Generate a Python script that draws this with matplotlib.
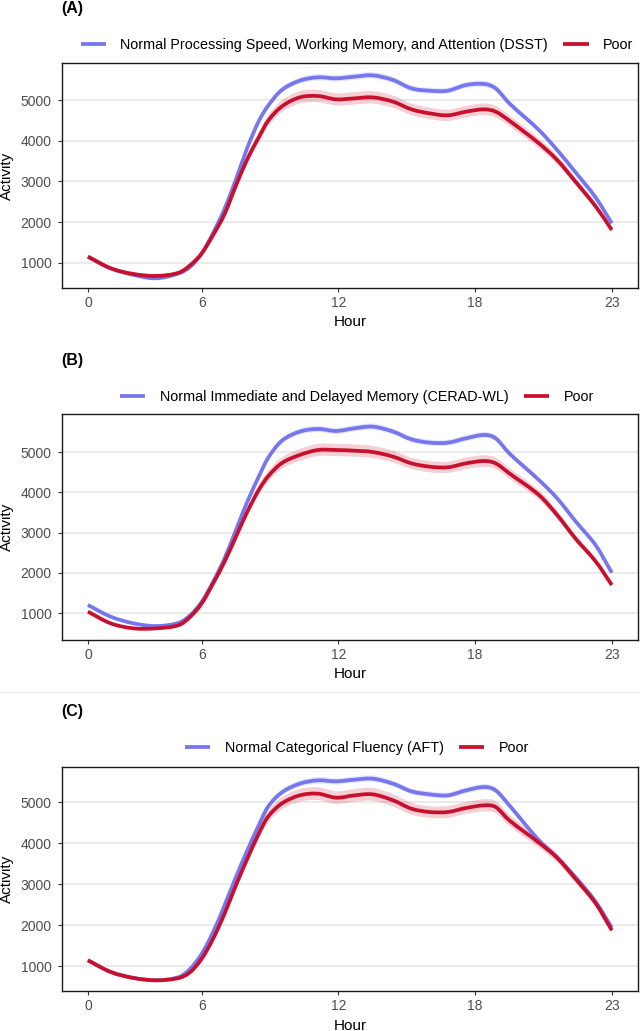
import matplotlib
matplotlib.use("Agg")
import matplotlib.pyplot as plt
from matplotlib.lines import Line2D
from matplotlib.path import Path
from matplotlib.patches import PathPatch
import numpy as np

plt.rcParams['font.family'] = ['Liberation Sans', 'DejaVu Sans']

# ---------------- data (plot units on the hour axis) ----------------
hours = [0, 1, 2, 3, 4, 4.5, 5, 5.5, 6, 6.5, 7, 7.5, 7.9, 8.5, 9.3, 10.1, 10.9,
         11.7, 12.5, 13.4, 14.2, 15, 15.8, 16.6, 17.4, 17.9, 18.5, 19.8, 20.6,
         21.4, 22.3, 23]
tick_pos = [0, 5, 11, 17, 23]
tick_labels = ["0", "6", "12", "18", "23"]
y_ticks = [1000, 2000, 3000, 4000, 5000]

panel_titles = ["(A)", "(B)", "(C)"]
normal_labels = ["Normal Processing Speed, Working Memory, and Attention (DSST)",
                 "Normal Immediate and Delayed Memory (CERAD-WL)",
                 "Normal Categorical Fluency (AFT)"]
poor_label = "Poor"

a_normal = [1155, 869, 706, 624, 746, 910, 1237, 1740, 2330, 3050, 3830, 4480, 4850,
            5240, 5474, 5556, 5532, 5573, 5605, 5491, 5286, 5229, 5229, 5368, 5393,
            5286, 4918, 4264, 3773, 3230, 2600, 1973]
a_poor = [1155, 869, 730, 681, 763, 950, 1237, 1687, 2200, 2900, 3550, 4080, 4480,
          4836, 5065, 5098, 5016, 5041, 5065, 4959, 4771, 4673, 4624, 4714, 4771,
          4714, 4493, 3937, 3528, 3000, 2382, 1810]

b_normal = [1199, 909, 743, 676, 759, 950, 1282, 1780, 2361, 3066, 3772, 4394, 4850,
            5280, 5515, 5581, 5531, 5598, 5639, 5515, 5324, 5241, 5241, 5349, 5432,
            5349, 4975, 4311, 3855, 3290, 2680, 2004]
b_poor = [1033, 743, 618, 618, 701, 909, 1241, 1739, 2278, 2900, 3523, 4062, 4394,
          4726, 4934, 5058, 5058, 5041, 5008, 4892, 4726, 4643, 4627, 4726, 4784,
          4726, 4477, 3938, 3440, 2859, 2278, 1697]

c_normal = [1146, 862, 716, 659, 740, 943, 1308, 1836, 2485, 3174, 3824, 4432, 4878,
            5227, 5446, 5527, 5503, 5544, 5568, 5446, 5260, 5187, 5162, 5284, 5365,
            5284, 4920, 4067, 3650, 3174, 2566, 1941]
c_poor = [1146, 862, 716, 659, 716, 862, 1187, 1673, 2282, 2972, 3621, 4229, 4635,
          4959, 5162, 5203, 5105, 5162, 5187, 5041, 4838, 4757, 4757, 4854, 4919,
          4878, 4554, 4010, 3640, 3134, 2525, 1876]

normal_series = [a_normal, b_normal, c_normal]
poor_series = [a_poor, b_poor, c_poor]

# relative half-width of the confidence bands
normal_ci = 0.014
poor_ci = 0.03

# ---------------- style / layout ----------------
BLUE = "#7676EF"
RED = "#C8102E"
W, H = 640, 1031
boxes = [(61.7, 62.7, 638, 288.3), (61.7, 414, 638, 640), (61.7, 766.7, 638, 991.3)]
ylims = [(378, 5916), (328, 5954), (391, 5860)]
title_y = [8.5, 360, 711.5]
legend_y = [45, 396.7, 748]


def bezier_segments(x, y):
    """Cubic Hermite curve through the points, as Bezier vertices."""
    x = np.asarray(x, float)
    y = np.asarray(y, float)
    n = len(x)
    m = np.empty(n)
    m[0] = (y[1] - y[0]) / (x[1] - x[0])
    m[-1] = (y[-1] - y[-2]) / (x[-1] - x[-2])
    m[1:-1] = (y[2:] - y[:-2]) / (x[2:] - x[:-2])
    verts = []
    for k in range(n - 1):
        h = x[k + 1] - x[k]
        verts += [(x[k] + h / 3, y[k] + m[k] * h / 3),
                  (x[k + 1] - h / 3, y[k + 1] - m[k + 1] * h / 3),
                  (x[k + 1], y[k + 1])]
    return verts


def curve_path(x, y):
    verts = [(x[0], y[0])] + bezier_segments(x, y)
    codes = [Path.MOVETO] + [Path.CURVE4] * (len(verts) - 1)
    return Path(verts, codes)


def band_path(x, lo, hi):
    up = [(x[0], hi[0])] + bezier_segments(x, hi)
    down = bezier_segments(x[::-1], lo[::-1])
    verts = up + [(x[-1], lo[-1])] + down + [(x[0], hi[0])]
    codes = ([Path.MOVETO] + [Path.CURVE4] * (len(up) - 1) + [Path.LINETO]
             + [Path.CURVE4] * len(down) + [Path.CLOSEPOLY])
    return Path(verts, codes)


fig = plt.figure(figsize=(W / 100, H / 100), dpi=100)

for i in range(3):
    l, t, r, b = boxes[i]
    ax = fig.add_axes([l / W, 1 - b / H, (r - l) / W, (b - t) / H])
    x = np.array(hours, dtype=float)
    vn = np.array(normal_series[i], dtype=float)
    vp = np.array(poor_series[i], dtype=float)

    ax.add_patch(PathPatch(band_path(x, vn * (1 - normal_ci), vn * (1 + normal_ci)),
                           facecolor=BLUE, alpha=0.2, lw=0, zorder=2))
    ax.add_patch(PathPatch(band_path(x, vp * (1 - poor_ci), vp * (1 + poor_ci)),
                           facecolor=RED, alpha=0.2, lw=0, zorder=2))
    ax.add_patch(PathPatch(curve_path(x, vn), facecolor='none', edgecolor=BLUE,
                           lw=2.7, capstyle='butt', joinstyle='round', zorder=3))
    ax.add_patch(PathPatch(curve_path(x, vp), facecolor='none', edgecolor=RED,
                           lw=2.7, capstyle='butt', joinstyle='round', zorder=4))

    ax.set_xlim(-1.15, 24.15)
    ax.set_ylim(*ylims[i])
    ax.set_xticks(tick_pos)
    ax.set_xticklabels(tick_labels)
    ax.set_yticks(y_ticks)
    ax.set_yticklabels([str(v) for v in y_ticks])
    ax.grid(axis='y', color='#e6e6e6', lw=1.1, zorder=0)
    ax.set_axisbelow(True)
    for s in ax.spines.values():
        s.set_color('#1a1a1a')
        s.set_linewidth(1.0)
    ax.tick_params(axis='both', direction='out', length=2.9, width=0.8,
                   color='#333333', labelcolor='#4d4d4d', labelsize=10)
    ax.tick_params(axis='x', pad=2.8)
    ax.tick_params(axis='y', pad=4.2)

    ax.set_xlabel("Hour", fontsize=11, color='black')
    ax.xaxis.set_label_coords(0.5, -(34.2) / (b - t))
    ax.xaxis.label.set_va('center')
    ax.set_ylabel("Activity", fontsize=11, color='black')
    ax.yaxis.set_label_coords((6.7 - l) / (r - l), 0.5)
    ax.yaxis.label.set_va('center')
    ax.yaxis.label.set_ha('center')

    fig.text(l / W, 1 - title_y[i] / H, panel_titles[i], fontsize=11.5,
             fontweight='bold', ha='left', va='center')

    handles = [Line2D([], [], color=BLUE, lw=2.7, solid_capstyle='butt'),
               Line2D([], [], color=RED, lw=2.7, solid_capstyle='butt')]
    fig.legend(handles, [normal_labels[i], poor_label], loc='center',
               bbox_to_anchor=(357 / W, 1 - legend_y[i] / H), ncol=2,
               frameon=False, fontsize=10.4, handlelength=1.75,
               handletextpad=1.0, columnspacing=1.05, borderpad=0, borderaxespad=0)

fig.add_artist(Line2D([0, 1], [1 - 692 / H, 1 - 692 / H], transform=fig.transFigure,
                      color='#eeeeee', lw=1.0))

fig.savefig("out.png", dpi=100, facecolor='white')
